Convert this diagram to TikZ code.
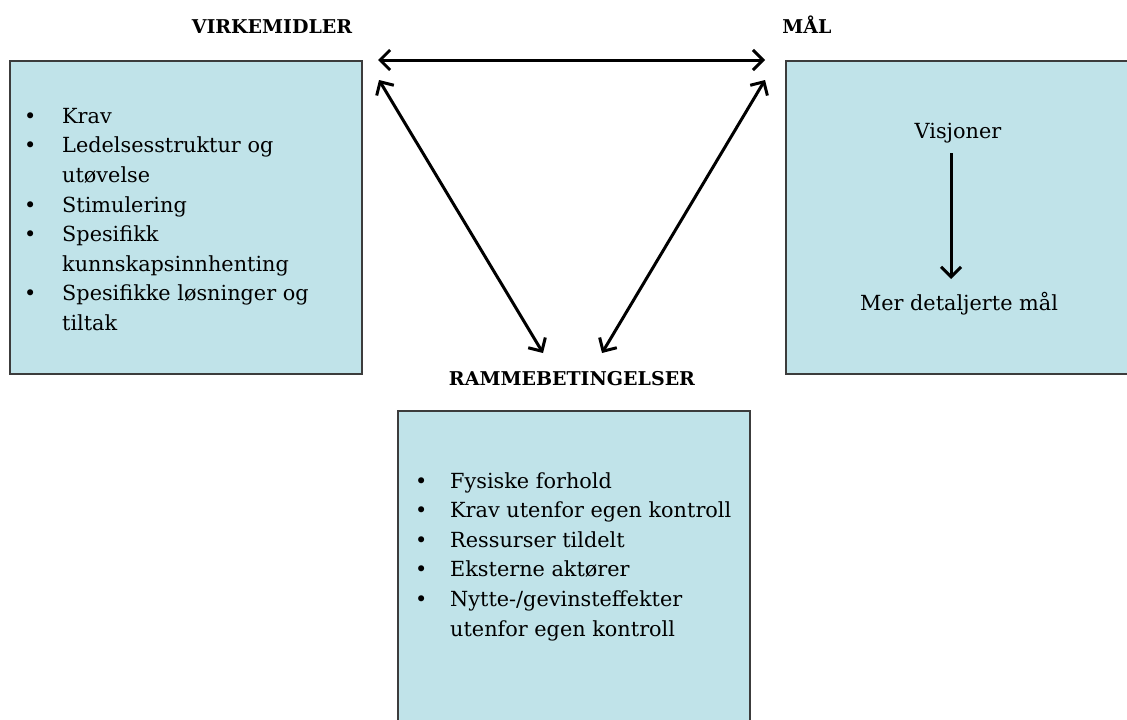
\documentclass[tikz,border=0pt]{standalone}
\usepackage{fontspec}
\setmainfont{DejaVu Serif}
\usetikzlibrary{arrows.meta}
\definecolor{boxfill}{RGB}{192,227,233}
\definecolor{boxline}{RGB}{60,60,60}
\begin{document}
\begin{tikzpicture}[x=1pt,y=-1pt,
  panel/.style={draw=boxline, line width=1.8pt, fill=boxfill, anchor=north west, inner sep=0pt},
  heading/.style={font=\bfseries\fontsize{19}{22}\selectfont, inner sep=0pt, anchor=base},
  listtext/.style={align=left, inner sep=0pt, font=\fontsize{20.8}{29.6}\selectfont, anchor=north west},
  plain/.style={inner sep=0pt, font=\fontsize{20.8}{24}\selectfont, anchor=base},
  barb/.tip={Straight Barb[length=10pt,width=20pt,line width=3pt]},
  link/.style={line width=3pt, barb-barb},
  flow/.style={line width=3pt, -barb},
]
\useasboundingbox (0,0) rectangle (1127,720);

% the three panels
\node[panel, minimum width=352pt, minimum height=313pt] (virk) at (9,60) {};
\node[panel, minimum width=360pt, minimum height=313pt] (maal) at (785,60) {};
\node[panel, minimum width=352pt, minimum height=330pt] (ramme) at (397,410) {};

% headings
\node[heading] (hvirk) at (272,33) {VIRKEMIDLER};
\node[heading] (hmaal) at (807,33) {MÅL};
\node[heading] (hramme) at (572,385) {RAMMEBETINGELSER};

% panel contents
\node[listtext] (vlist) at (24,108) {%
  \makebox[38pt][l]{•}Krav\\
  \makebox[38pt][l]{•}Ledelsesstruktur og\\
  \hspace*{38pt}utøvelse\\
  \makebox[38pt][l]{•}Stimulering\\
  \makebox[38pt][l]{•}Spesifikk\\
  \hspace*{38pt}kunnskapsinnhenting\\
  \makebox[38pt][l]{•}Spesifikke løsninger og\\
  \hspace*{38pt}tiltak};

\node[listtext] (rlist) at (415,472) {%
  \makebox[35pt][l]{•}Fysiske forhold\\
  \makebox[35pt][l]{•}Krav utenfor egen kontroll\\
  \makebox[35pt][l]{•}Ressurser tildelt\\
  \makebox[35pt][l]{•}Eksterne aktører\\
  \makebox[35pt][l]{•}Nytte-/gevinsteffekter\\
  \hspace*{35pt}utenfor egen kontroll};

\node[plain] (visjon) at (958,138) {Visjoner};
\node[plain] (detalj) at (959,310) {Mer detaljerte mål};

% connector end points
\coordinate (vTop) at (378,60);
\coordinate (mTop) at (765,60);
\coordinate (vSide) at (379,80);
\coordinate (mSide) at (765,80);
\coordinate (rLeft) at (543,353);
\coordinate (rRight) at (602,353);
\coordinate (visEnd) at (951,153);
\coordinate (detEnd) at (951,279);

% connectors
\draw[link] (vTop) -- (mTop);
\draw[link] (vSide) -- (rLeft);
\draw[link] (mSide) -- (rRight);
\draw[flow] (visEnd) -- (detEnd);
\end{tikzpicture}
\end{document}
